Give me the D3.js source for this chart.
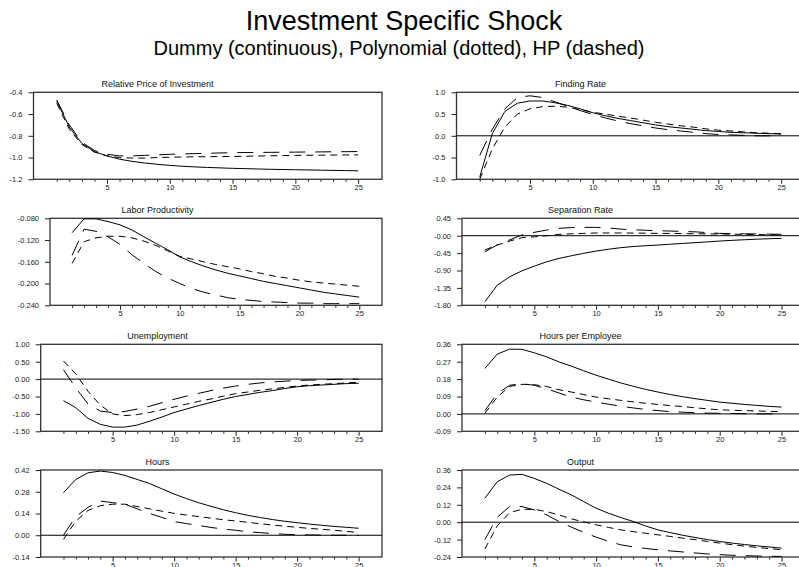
<!DOCTYPE html>
<html><head><meta charset="utf-8">
<script src="https://cdn.jsdelivr.net/npm/d3@7"></script>
<style>
html,body{margin:0;padding:0;background:#fff;}
svg{display:block;font-family:"Liberation Sans",Arial,sans-serif;}
</style></head>
<body>
<svg id="c" width="799" height="567"></svg>
<script>
const periods = [1,2,3,4,5,6,7,8,9,10,11,12,13,14,15,16,17,18,19,20,21,22,23,24,25];
const xLabelTicks = [5,10,15,20,25];

// Relative Price of Investment
const relPriceDummy = [-0.48,-0.72,-0.87,-0.945,-0.985,-1.015,-1.035,-1.05,-1.062,-1.072,-1.08,-1.086,-1.091,-1.095,-1.099,-1.102,-1.105,-1.108,-1.11,-1.112,-1.114,-1.116,-1.118,-1.12,-1.122];
const relPricePoly  = [-0.5,-0.74,-0.88,-0.95,-0.985,-1.0,-1.005,-1.005,-1.0,-0.997,-0.995,-0.993,-0.992,-0.991,-0.99,-0.988,-0.986,-0.984,-0.982,-0.98,-0.979,-0.978,-0.977,-0.976,-0.975];
const relPriceHP    = [-0.47,-0.7,-0.86,-0.935,-0.97,-0.985,-0.985,-0.98,-0.975,-0.97,-0.967,-0.964,-0.961,-0.958,-0.955,-0.954,-0.953,-0.952,-0.951,-0.95,-0.949,-0.948,-0.947,-0.946,-0.945];
const relPriceTickVals = [-1.2,-1.0,-0.8,-0.6,-0.4];
const relPriceTickLabels = ["-1.2","-1.0","-0.8","-0.6","-0.4"];

// Finding Rate
const findDummy = [-0.95,0.05,0.56,0.75,0.80,0.80,0.76,0.70,0.62,0.53,0.46,0.40,0.35,0.30,0.25,0.21,0.18,0.15,0.12,0.10,0.08,0.07,0.06,0.05,0.04];
const findPoly  = [-1.0,-0.3,0.2,0.5,0.62,0.67,0.68,0.66,0.6,0.54,0.5,0.45,0.41,0.36,0.31,0.27,0.23,0.2,0.16,0.13,0.11,0.09,0.07,0.06,0.05];
const findHP    = [-0.45,0.15,0.62,0.88,0.92,0.88,0.78,0.68,0.58,0.49,0.41,0.34,0.28,0.23,0.18,0.14,0.11,0.08,0.05,0.03,0.02,0.01,0.0,0.0,0.0];
const findTickVals = [-1.0,-0.5,0.0,0.5,1.0];
const findTickLabels = ["-1.0","-0.5","0.0","0.5","1.0"];

// Labor Productivity
const lpDummy = [-0.1065,-0.081,-0.081,-0.086,-0.092,-0.1015,-0.114,-0.126,-0.138,-0.151,-0.160,-0.168,-0.175,-0.181,-0.186,-0.191,-0.196,-0.2,-0.204,-0.208,-0.212,-0.216,-0.219,-0.222,-0.225];
const lpPoly  = [-0.163,-0.123,-0.116,-0.113,-0.113,-0.116,-0.122,-0.130,-0.140,-0.150,-0.155,-0.160,-0.165,-0.169,-0.173,-0.178,-0.182,-0.187,-0.19,-0.194,-0.197,-0.199,-0.201,-0.203,-0.205];
const lpHP    = [-0.148,-0.100,-0.104,-0.114,-0.128,-0.147,-0.163,-0.178,-0.19,-0.2,-0.209,-0.216,-0.221,-0.226,-0.229,-0.231,-0.233,-0.234,-0.235,-0.236,-0.236,-0.237,-0.237,-0.237,-0.237];
const lpTickVals = [-0.24,-0.20,-0.16,-0.12,-0.08];
const lpTickLabels = ["-0.240","-0.200","-0.160","-0.120","-0.080"];

// Separation Rate
const sepDummy = [-1.71,-1.28,-1.064,-0.909,-0.787,-0.675,-0.588,-0.519,-0.455,-0.398,-0.35,-0.31,-0.28,-0.26,-0.242,-0.22,-0.2,-0.18,-0.16,-0.138,-0.12,-0.105,-0.09,-0.078,-0.069];
const sepPoly  = [-0.37,-0.24,-0.14,-0.05,-0.03,0.0,0.035,0.05,0.06,0.07,0.07,0.07,0.068,0.065,0.06,0.058,0.055,0.05,0.048,0.045,0.04,0.035,0.03,0.025,0.02];
const sepHP    = [-0.415,-0.24,-0.11,0.02,0.087,0.147,0.19,0.21,0.215,0.216,0.2,0.17,0.155,0.14,0.13,0.12,0.11,0.1,0.08,0.06,0.055,0.05,0.045,0.04,0.035];
const sepTickVals = [-1.8,-1.35,-0.9,-0.45,0.0,0.45];
const sepTickLabels = ["-1.80","-1.35","-0.90","-0.45","-0.00","0.45"];

// Unemployment
const unDummy = [-0.62,-0.82,-1.13,-1.30,-1.38,-1.38,-1.32,-1.21,-1.09,-0.96,-0.86,-0.76,-0.67,-0.58,-0.5,-0.44,-0.38,-0.33,-0.27,-0.22,-0.19,-0.17,-0.15,-0.13,-0.12];
const unPoly  = [0.52,0.15,-0.35,-0.75,-1.0,-1.05,-1.02,-0.96,-0.88,-0.8,-0.72,-0.64,-0.57,-0.49,-0.42,-0.37,-0.32,-0.28,-0.24,-0.2,-0.17,-0.15,-0.13,-0.11,-0.09];
const unHP    = [0.27,-0.25,-0.72,-0.92,-0.96,-0.93,-0.86,-0.78,-0.68,-0.58,-0.49,-0.41,-0.33,-0.26,-0.2,-0.15,-0.11,-0.08,-0.06,-0.04,-0.03,-0.02,-0.01,0.0,0.0];
const unTickVals = [-1.5,-1.0,-0.5,0.0,0.5,1.0];
const unTickLabels = ["-1.50","-1.00","-0.50","0.00","0.50","1.00"];

// Hours per Employee
const hpeDummy = [0.235,0.309,0.335,0.334,0.316,0.295,0.269,0.247,0.223,0.2,0.18,0.16,0.143,0.127,0.113,0.1,0.089,0.079,0.07,0.061,0.055,0.049,0.044,0.039,0.035];
const hpePoly  = [0.003,0.087,0.142,0.153,0.151,0.142,0.125,0.113,0.1,0.087,0.078,0.07,0.062,0.055,0.049,0.043,0.038,0.032,0.026,0.021,0.019,0.017,0.015,0.013,0.012];
const hpeHP    = [0.017,0.104,0.148,0.156,0.148,0.13,0.108,0.087,0.073,0.061,0.05,0.04,0.031,0.023,0.017,0.012,0.009,0.006,0.004,0.003,0.002,0.001,0.0,0.0,0.0];
const hpeTickVals = [-0.09,0.0,0.09,0.18,0.27,0.36];
const hpeTickLabels = ["-0.09","0.00","0.09","0.18","0.27","0.36"];

// Hours
const hoursDummy = [0.274,0.359,0.402,0.413,0.404,0.385,0.359,0.333,0.299,0.265,0.236,0.209,0.186,0.164,0.145,0.128,0.114,0.101,0.09,0.081,0.072,0.064,0.057,0.051,0.045];
const hoursPoly  = [-0.026,0.09,0.16,0.19,0.2,0.2,0.185,0.17,0.155,0.141,0.13,0.12,0.11,0.1,0.092,0.083,0.074,0.066,0.058,0.051,0.044,0.038,0.032,0.025,0.017];
const hoursHP    = [0.0,0.12,0.18,0.22,0.21,0.2,0.17,0.14,0.115,0.088,0.075,0.063,0.05,0.04,0.032,0.022,0.017,0.011,0.006,0.004,0.002,0.001,0.0,0.0,0.0];
const hoursTickVals = [-0.14,0.0,0.14,0.28,0.42];
const hoursTickLabels = ["-0.14","0.00","0.14","0.28","0.42"];

// Output
const outDummy = [0.165,0.279,0.325,0.33,0.302,0.268,0.227,0.188,0.142,0.096,0.062,0.032,0.005,-0.026,-0.053,-0.072,-0.09,-0.105,-0.12,-0.133,-0.144,-0.154,-0.163,-0.171,-0.179];
const outPoly  = [-0.185,-0.025,0.066,0.089,0.089,0.073,0.05,0.023,0.002,-0.018,-0.036,-0.053,-0.065,-0.076,-0.087,-0.098,-0.11,-0.12,-0.133,-0.144,-0.155,-0.165,-0.174,-0.182,-0.19];
const outHP    = [-0.12,0.034,0.108,0.108,0.085,0.05,0.005,-0.034,-0.07,-0.103,-0.132,-0.156,-0.17,-0.181,-0.19,-0.198,-0.205,-0.212,-0.219,-0.224,-0.228,-0.231,-0.233,-0.235,-0.236];
const outTickVals = [-0.24,-0.12,0.0,0.12,0.24,0.36];
const outTickLabels = ["-0.24","-0.12","0.00","0.12","0.24","0.36"];

const panels = [
  {title:"Relative Price of Investment", col:0,row:0,left:33.5, d:relPriceDummy,p:relPricePoly,h:relPriceHP, tv:relPriceTickVals, tl:relPriceTickLabels},
  {title:"Finding Rate", col:1,row:0,left:456.5, d:findDummy,p:findPoly,h:findHP, tv:findTickVals, tl:findTickLabels},
  {title:"Labor Productivity", col:0,row:1,left:50, d:lpDummy,p:lpPoly,h:lpHP, tv:lpTickVals, tl:lpTickLabels},
  {title:"Separation Rate", col:1,row:1,left:462, d:sepDummy,p:sepPoly,h:sepHP, tv:sepTickVals, tl:sepTickLabels},
  {title:"Unemployment", col:0,row:2,left:40.7, d:unDummy,p:unPoly,h:unHP, tv:unTickVals, tl:unTickLabels},
  {title:"Hours per Employee", col:1,row:2,left:462, d:hpeDummy,p:hpePoly,h:hpeHP, tv:hpeTickVals, tl:hpeTickLabels},
  {title:"Hours", col:0,row:3,left:40.7, d:hoursDummy,p:hoursPoly,h:hoursHP, tv:hoursTickVals, tl:hoursTickLabels},
  {title:"Output", col:1,row:3,left:462, d:outDummy,p:outPoly,h:outHP, tv:outTickVals, tl:outTickLabels}
];

const svg = d3.select("#c");
svg.append("text").attr("x",404).attr("y",30).attr("text-anchor","middle")
  .attr("font-size",27).attr("fill","#000").text("Investment Specific Shock");
svg.append("text").attr("x",399).attr("y",55).attr("text-anchor","middle")
  .attr("font-size",20).attr("fill","#000").text("Dummy (continuous), Polynomial (dotted), HP (dashed)");

const colOffset = [0,423];
const rowTop = [92.3,218.3,344.3,470];
const plotH = 87;
const colRight = [382,805];
const titleOffset = 157.5;

panels.forEach(pn => {
  const L = pn.left, R = colRight[pn.col], T = rowTop[pn.row], B = T + plotH;
  const x = d3.scaleLinear().domain([-0.85,26.9]).range([L,R]);
  const y = d3.scaleLinear().domain([pn.tv[0], pn.tv[pn.tv.length-1]]).range([B,T]);
  const g = svg.append("g");

  g.append("text").attr("x", colOffset[pn.col]+titleOffset).attr("y", T-5)
    .attr("text-anchor","middle").attr("font-size",9).attr("fill","#111").text(pn.title);

  // y axis
  const ya = g.append("g").attr("transform",`translate(${L},0)`)
    .call(d3.axisLeft(y).tickValues(pn.tv).tickFormat((d,i)=>pn.tl[i]).tickSize(5).tickPadding(6));
  ya.select(".domain").remove();
  ya.selectAll("line").attr("stroke","#222");
  ya.selectAll("text").attr("font-size",7.5).attr("fill","#222").attr("font-family","Liberation Sans, Arial, sans-serif");

  // x axis
  const xa = g.append("g").attr("transform",`translate(0,${B})`)
    .call(d3.axisBottom(x).tickValues(periods).tickFormat(d => xLabelTicks.includes(d) ? String(d) : "").tickSize(2.5).tickPadding(3));
  xa.select(".domain").remove();
  xa.selectAll(".tick line").attr("stroke","#222").attr("y2", d => xLabelTicks.includes(d) ? 4.5 : 2.5);
  xa.selectAll("text").attr("font-size",7.5).attr("fill","#222").attr("font-family","Liberation Sans, Arial, sans-serif");

  // frame
  g.append("rect").attr("x",L).attr("y",T).attr("width",R-L).attr("height",B-T)
    .attr("fill","none").attr("stroke","#333").attr("stroke-width",1.3);

  // zero line
  if (y.domain()[0] < 0 && y.domain()[1] > 0) {
    g.append("line").attr("x1",L).attr("x2",R).attr("y1",y(0)).attr("y2",y(0))
      .attr("stroke","#000").attr("stroke-width",1);
  }

  const line = d3.line().x((d,i)=>x(periods[i])).y(d=>y(d));
  const series = [
    {v:pn.h, dash:"16,10"},
    {v:pn.p, dash:"7,5"},
    {v:pn.d, dash:null}
  ];
  series.forEach(s => {
    g.append("path").datum(s.v).attr("d",line).attr("fill","none")
      .attr("stroke","#000").attr("stroke-width",1)
      .attr("stroke-dasharray", s.dash);
  });
});
</script>
</body></html>
